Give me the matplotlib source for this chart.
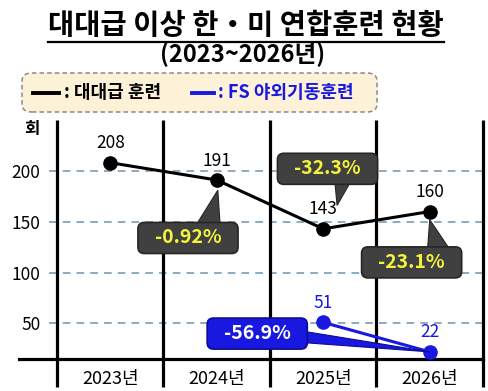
import matplotlib
matplotlib.use("Agg")
import matplotlib.pyplot as plt
from matplotlib.lines import Line2D
from matplotlib.patches import FancyBboxPatch, Polygon
import matplotlib.transforms as mtransforms

plt.rcParams["font.family"] = ["Noto Sans CJK KR", "DejaVu Sans"]

# data
years = ["2023년", "2024년", "2025년", "2026년"]
battalion = [208, 191, 143, 160]
fs_years = [2, 3]
fs_field = [51, 22]
series_names = ["대대급 훈련", "FS 야외기동훈련"]
yticks = [50, 100, 150, 200]
change_labels = ["-0.92%", "-32.3%", "-23.1%"]
fs_change = "-56.9%"

DARK = "#404040"
DARK_EDGE = "#262626"
YELLOW = "#f4f43c"
BLUE = "#1818e0"
BLUE_EDGE = "#0c0c90"
GRID = "#6f93ad"

W, H = 489, 391
fig = plt.figure(figsize=(W / 100, H / 100), dpi=100)
fig.patch.set_facecolor("white")


def fx(px):
    return px / W


def fy(py):
    return 1 - py / H


ax = fig.add_axes([fx(57), fy(359), fx(483) - fx(57), fy(120) - fy(359)])
ax.set_xlim(-0.5, 3.5)
ax.set_ylim(15, 250)
for s in ax.spines.values():
    s.set_visible(False)

x = list(range(len(years)))

# grid
trans = mtransforms.blended_transform_factory(ax.transAxes, ax.transData)
for v in yticks:
    ax.plot([-0.018, 1.0], [v, v], transform=trans, color=GRID, lw=1.1,
            ls=(0, (5, 4)), clip_on=False, zorder=1)

# column separators
vtrans = mtransforms.blended_transform_factory(ax.transData, ax.transAxes)
for xv in [-0.5, 0.5, 1.5, 2.5, 3.5]:
    ax.plot([xv, xv], [1.0, -0.117], transform=vtrans, color="black", lw=2.3,
            clip_on=False, zorder=2, solid_capstyle="butt")
# x axis line
ax.plot([-0.09, 1.0], [0, 0], transform=ax.transAxes, color="black", lw=2.3,
        clip_on=False, zorder=2)

# series
ax.plot(x, battalion, color="black", lw=2.2, marker="o", ms=9.5, zorder=5)
ax.plot(fs_years, fs_field, color=BLUE, lw=2.2, marker="o", ms=9.5, zorder=5)

for xi, v in zip(x, battalion):
    ax.annotate(str(v), (xi, v), xytext=(0, 14), textcoords="offset points",
                ha="center", va="center", fontsize=12.5, color="black", zorder=6)
for xi, v in zip(fs_years, fs_field):
    ax.annotate(str(v), (xi, v), xytext=(0, 14), textcoords="offset points",
                ha="center", va="center", fontsize=12.5, color=BLUE, zorder=6)


def callout(txt, center, pointer, fc, ec, tc):
    bx, by = center
    w, h = 0.94, 30.5
    ax.add_patch(Polygon(pointer, closed=True, fc=fc, ec=ec, lw=0.8, zorder=7,
                         clip_on=False))
    ax.add_patch(FancyBboxPatch((bx - w / 2, by - h / 2), w, h,
                                boxstyle="round,pad=0,rounding_size=0.06",
                                mutation_aspect=104, fc=fc, ec=ec, lw=1.2,
                                zorder=8, clip_on=False))
    ax.text(bx, by, txt, ha="center", va="center", fontsize=14,
            fontweight="bold", color=tc, zorder=9)


# dark callouts: box centre and pointer triangle (base on box edge, tip near point)
callout(change_labels[0], (0.73, 134),
        [(0.82, 149), (1.03, 149), (1.01, 181)], DARK, DARK_EDGE, YELLOW)
callout(change_labels[1], (2.04, 202),
        [(2.11, 188), (2.25, 188), (2.13, 166)], DARK, DARK_EDGE, YELLOW)
callout(change_labels[2], (2.83, 110),
        [(2.98, 124), (3.18, 124), (3.0, 152)], DARK, DARK_EDGE, YELLOW)
callout(fs_change, (1.38, 40),
        [(1.83, 42), (1.83, 31), (fs_years[1], fs_field[1])], BLUE, BLUE_EDGE,
        "white")

# ticks
ax.set_yticks(yticks)
ax.set_yticklabels([str(v) for v in yticks], fontsize=12.5)
ax.tick_params(axis="y", length=0, pad=12)
ax.set_xticks(x)
ax.set_xticklabels(years, fontsize=13)
ax.tick_params(axis="x", length=0, pad=8)
fig.text(fx(32), fy(129), "회", ha="center", va="center", fontsize=12,
         fontweight="bold")

# title
t1 = fig.text(fx(246), fy(26), "대대급 이상 한・미 연합훈련 현황", ha="center",
              va="center", fontsize=20.5, fontweight="bold")
fig.text(fx(243), fy(54), "(2023~2026년)", ha="center", va="center",
         fontsize=17, fontweight="bold")
fig.canvas.draw()
bb = t1.get_window_extent().transformed(fig.transFigure.inverted())
fig.add_artist(Line2D([bb.x0, bb.x1], [fy(42), fy(42)], color="black", lw=1.6))

# legend box
leg = FancyBboxPatch((fx(22), fy(112)), fx(377) - fx(22), fy(73) - fy(112),
                     boxstyle="round,pad=0,rounding_size=0.02",
                     transform=fig.transFigure, fc="#fdf2d8", ec="#8a8a8a",
                     lw=1.1, ls=(0, (3, 2)))
fig.add_artist(leg)
fig.add_artist(Line2D([fx(33), fx(59)], [fy(93), fy(93)], color="black", lw=2.8))
fig.text(fx(64), fy(93), ": " + series_names[0], ha="left", va="center",
         fontsize=13, fontweight="bold")
fig.add_artist(Line2D([fx(192), fx(214)], [fy(93), fy(93)], color=BLUE, lw=2.8))
fig.text(fx(218), fy(93), ": " + series_names[1], ha="left", va="center",
         fontsize=13, fontweight="bold", color=BLUE)

fig.savefig("out.png", dpi=100)
